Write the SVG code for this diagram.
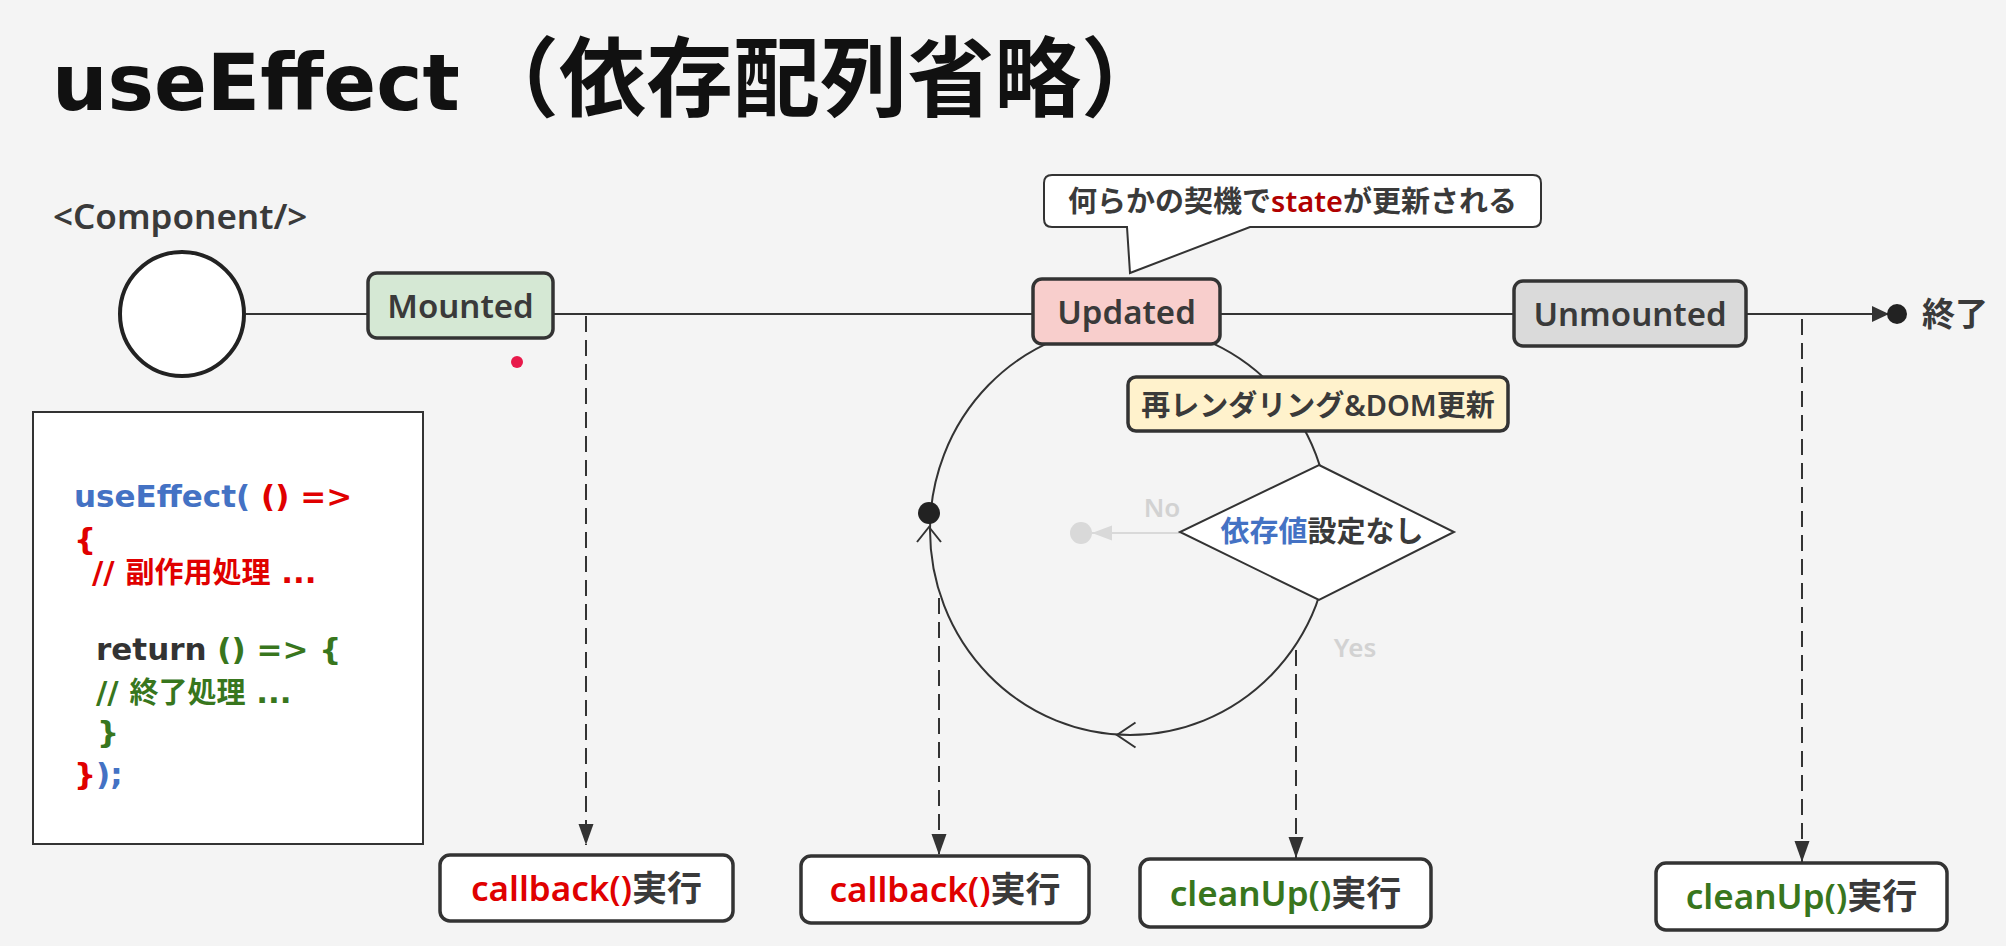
<svg xmlns="http://www.w3.org/2000/svg" width="2006" height="946" viewBox="0 0 2006 946">
<style>
.lbl{font-family:"Noto Sans","Noto Sans CJK JP",sans-serif;font-weight:600;fill:#3a3a3a}
.code{font-family:"DejaVu Sans","Noto Sans CJK JP",sans-serif;font-weight:700;font-size:31px}
.state{stroke:#333;stroke-width:3.5}
.box{fill:#fff;stroke:#333;stroke-width:3.5}
.dash{fill:none;stroke:#333;stroke-width:2;stroke-dasharray:16 8}
.blue{fill:#4472c4}.red{fill:#e00000}.green{fill:#38761d}.dark{fill:#333}
</style>
<defs>
<marker id="ah" markerUnits="userSpaceOnUse" markerWidth="22" markerHeight="16" viewBox="0 0 22 16" refX="21" refY="8" orient="auto">
<path d="M0,0.5 L21,8 L0,15.5 Z" fill="#333"/>
</marker>
<marker id="ahEnd" markerUnits="userSpaceOnUse" markerWidth="18" markerHeight="16" viewBox="0 0 18 16" refX="17" refY="8" orient="auto">
<path d="M0,0 L17,8 L0,16 Z" fill="#333"/>
</marker>
<marker id="ahGrey" markerUnits="userSpaceOnUse" markerWidth="22" markerHeight="16" viewBox="0 0 22 16" refX="20" refY="8" orient="auto">
<path d="M0,0.5 L20,8 L0,15.5 Z" fill="#d9d9d9"/>
</marker>
</defs>
<rect width="2006" height="946" fill="#f4f4f4"/>

<g id="title">
<text x="52" y="110" style="font-family:'DejaVu Sans','Noto Sans CJK JP',sans-serif;font-weight:700;font-size:78px" fill="#111">useEffect<tspan x="472" style="font-family:'Noto Sans CJK JP',sans-serif;font-size:87px">（依存配列省略）</tspan></text>
</g>

<g id="connectors">
<line x1="246" y1="314" x2="368" y2="314" stroke="#333" stroke-width="2"/>
<line x1="553" y1="314" x2="1033" y2="314" stroke="#333" stroke-width="2"/>
<line x1="1220" y1="314" x2="1514" y2="314" stroke="#333" stroke-width="2"/>
<line x1="1746" y1="314" x2="1889" y2="314" stroke="#333" stroke-width="2" marker-end="url(#ahEnd)"/>
<circle cx="1897" cy="314" r="10" fill="#222"/>
<ellipse cx="1130" cy="530" rx="200" ry="205" fill="none" stroke="#333" stroke-width="2"/>
<polyline points="1135.5,722.5 1117,735 1135.5,747.5" fill="none" stroke="#333" stroke-width="2"/>
<circle cx="929" cy="513" r="11" fill="#222"/>
<polyline points="917,542 929,527 941,542" fill="none" stroke="#333" stroke-width="2"/>
<line x1="1180" y1="533" x2="1092" y2="533" stroke="#d9d9d9" stroke-width="2" marker-end="url(#ahGrey)"/>
<circle cx="1081" cy="533" r="11" fill="#d9d9d9"/>
<line class="dash" x1="586" y1="316" x2="586" y2="845" marker-end="url(#ah)"/>
<line class="dash" x1="939" y1="598" x2="939" y2="855" marker-end="url(#ah)"/>
<line class="dash" x1="1296" y1="650" x2="1296" y2="858" marker-end="url(#ah)"/>
<line class="dash" x1="1802" y1="319" x2="1802" y2="862" marker-end="url(#ah)"/>
</g>

<g id="component">
<text class="lbl" x="53" y="229" font-size="35">&lt;Component/&gt;</text>
<circle cx="182" cy="314" r="62" fill="#fff" stroke="#222" stroke-width="4"/>
</g>

<g id="mounted">
<rect class="state" x="368" y="273" width="185" height="65" rx="9" fill="#d5e8d4"/>
<text class="lbl" x="460.5" y="318" font-size="33" text-anchor="middle">Mounted</text>
</g>
<circle id="pointer" cx="517" cy="362" r="6" fill="#e8194a"/>

<g id="updated">
<rect class="state" x="1033" y="279" width="187" height="65" rx="9" fill="#f8cecc"/>
<text class="lbl" x="1126.5" y="324" font-size="33" text-anchor="middle">Updated</text>
</g>

<g id="callout">
<path d="M1052,175 H1533 Q1541,175 1541,183 V219 Q1541,227 1533,227 H1250 L1130,273 L1127,227 H1052 Q1044,227 1044,219 V183 Q1044,175 1052,175 Z" fill="#fff" stroke="#333" stroke-width="2"/>
<text class="lbl" x="1292.5" y="212" font-size="29" text-anchor="middle">何らかの契機で<tspan fill="#b00000">state</tspan>が更新される</text>
</g>

<g id="unmounted">
<rect class="state" x="1514" y="281" width="232" height="65" rx="9" fill="#dadada"/>
<text class="lbl" x="1630" y="326" font-size="33" text-anchor="middle">Unmounted</text>
</g>

<g id="end">
<text class="lbl" x="1922" y="326" font-size="33">終了</text>
</g>

<g id="rerender">
<rect class="state" x="1128" y="377" width="380" height="54" rx="8" fill="#fff2cc"/>
<text class="lbl" x="1318" y="416" font-size="29" text-anchor="middle">再レンダリング&amp;DOM更新</text>
</g>

<g id="decision">
<polygon points="1319,465 1454,532 1319,600 1180,532" fill="#fff" stroke="#333" stroke-width="2"/>
<text class="lbl" x="1322" y="542" font-size="29" text-anchor="middle"><tspan fill="#4472c4">依存値</tspan>設定なし</text>
<text class="lbl" x="1162" y="517" font-size="26" text-anchor="middle" style="fill:#d2d2d2">No</text>
<text class="lbl" x="1355" y="657" font-size="26" text-anchor="middle" style="fill:#d2d2d2">Yes</text>
</g>

<g id="code">
<rect x="33" y="412" width="390" height="432" fill="#fff" stroke="#333" stroke-width="2"/>
<text class="code" x="74" y="507"><tspan class="blue">useEffect(</tspan><tspan class="red"> () =&gt;</tspan></text>
<text class="code red" x="74" y="550">{</text>
<text class="code red" x="92" y="583">// <tspan style="font-family:'Noto Sans CJK JP',sans-serif;font-size:29px">副作用処理</tspan> ...</text>
<text class="code" x="96" y="660"><tspan class="dark">return</tspan><tspan class="green"> () =&gt; {</tspan></text>
<text class="code green" x="96" y="703">// <tspan style="font-family:'Noto Sans CJK JP',sans-serif;font-size:29px">終了処理</tspan> ...</text>
<text class="code green" x="97" y="743">}</text>
<text class="code" x="74" y="785"><tspan class="red">}</tspan><tspan class="blue">);</tspan></text>
</g>

<g id="cb1">
<rect class="box" x="440" y="855" width="293" height="66" rx="10"/>
<text class="lbl" x="586.5" y="901" font-size="35" text-anchor="middle"><tspan fill="#e00000">callback()</tspan>実行</text>
</g>
<g id="cb2">
<rect class="box" x="801" y="856" width="288" height="67" rx="10"/>
<text class="lbl" x="945" y="902" font-size="35" text-anchor="middle"><tspan fill="#e00000">callback()</tspan>実行</text>
</g>
<g id="cu1">
<rect class="box" x="1140" y="859" width="291" height="68" rx="10"/>
<text class="lbl" x="1285.5" y="906" font-size="35" text-anchor="middle"><tspan fill="#38761d">cleanUp()</tspan>実行</text>
</g>
<g id="cu2">
<rect class="box" x="1656" y="863" width="291" height="67" rx="10"/>
<text class="lbl" x="1801.5" y="909" font-size="35" text-anchor="middle"><tspan fill="#38761d">cleanUp()</tspan>実行</text>
</g>
</svg>
